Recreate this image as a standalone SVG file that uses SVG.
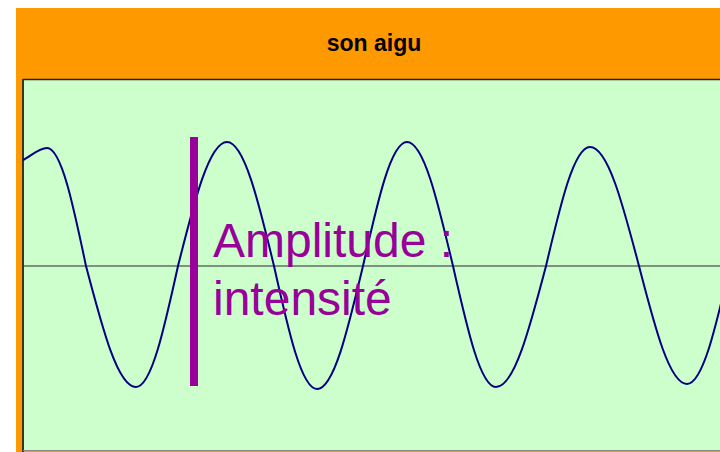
<svg xmlns="http://www.w3.org/2000/svg" width="720" height="452" viewBox="0 0 720 452">
<defs>
<style>
.title{font-family:"Liberation Sans",Arial,sans-serif;font-weight:bold;font-size:23px;fill:#000;}
.label{font-family:"Liberation Sans",Arial,sans-serif;font-size:48px;fill:#990099;}
</style>
<clipPath id="plotClip"><rect x="23" y="80" width="697" height="371"/></clipPath>
</defs>
<rect width="720" height="452" fill="#ffffff"/>
<g id="chart-frame">
<rect x="16" y="8" width="704" height="444" fill="#FF9900"/>
<text class="title" x="374" y="51" text-anchor="middle">son aigu</text>
</g>
<g id="plot-area">
<rect x="23" y="79" width="697" height="372" fill="#CCFFCC"/>
<line x1="23" y1="79.5" x2="720" y2="79.5" stroke="#222222" stroke-width="1.5"/>
<line x1="23" y1="79" x2="23" y2="452" stroke="#333333" stroke-width="2"/>
<line x1="23" y1="450.5" x2="720" y2="450.5" stroke="#888888" stroke-width="1"/>
<line x1="24" y1="266" x2="720" y2="266" stroke="#5f6f5f" stroke-width="1.5"/>
</g>
<g id="connectors">
<path clip-path="url(#plotClip)" fill="none" stroke="#000080" stroke-width="2" stroke-linejoin="round" d="M23,160 C31,156 39,148 47,148 C61.2,148 73,204 86,266 C102.7,329.5 117.8,387 136,387 C151.3,387 164,329.5 178,266 C194.4,200.9 209.2,142 227,142 C244.1,142 258.3,200.9 274,266 C288.4,330.6 301.4,389 317,389 C333.7,389 347.6,330.6 363,266 C377.7,200.9 391,142 407,142 C423.7,142 437.6,200.9 453,266 C467.4,329.5 480.4,387 496,387 C514.2,387 529.3,329.5 546,266 C560.7,203.5 574,147 590,147 C607.8,147 622.6,203.5 639,266 C655,328 669.6,384 687,384 C702.6,384 715.6,328 730,266"/>
</g>
<g id="amplitude-marker">
<rect x="190" y="137" width="8" height="249" fill="#990099"/>
<text class="label" x="213" y="257">Amplitude :</text>
<text class="label" x="213" y="315">intensité</text>
</g>
</svg>
